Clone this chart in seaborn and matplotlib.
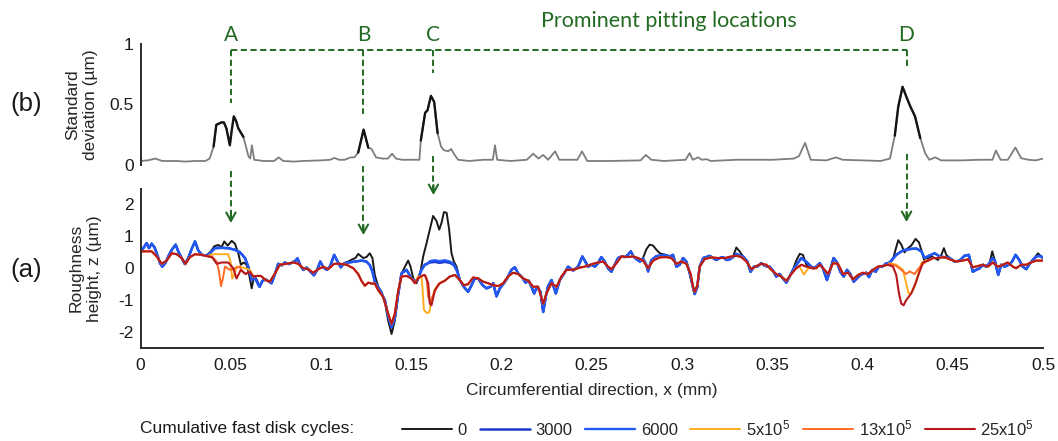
import numpy as np
import matplotlib
matplotlib.use("Agg")
import matplotlib.pyplot as plt
from matplotlib.lines import Line2D
from matplotlib.transforms import blended_transform_factory
import seaborn as sns

# ---------------------------------------------------------------- data
# (b) standard deviation of the roughness height across cycles (um)
x_std = [0.0, 0.004, 0.0083, 0.012, 0.02, 0.025, 0.03, 0.036, 0.0383, 0.0405,
         0.042, 0.0435, 0.0448, 0.0462, 0.0476, 0.0495, 0.0505, 0.0517, 0.053, 0.0542,
         0.057, 0.0598, 0.0608, 0.0617, 0.063, 0.068, 0.074, 0.0766, 0.079, 0.085,
         0.09, 0.1, 0.105, 0.1075, 0.11, 0.113, 0.1165, 0.1185, 0.1206, 0.1236,
         0.1262, 0.128, 0.1305, 0.134, 0.137, 0.1394, 0.1415, 0.145, 0.15, 0.1545,
         0.1553, 0.1577, 0.159, 0.1609, 0.1627, 0.1646, 0.1665, 0.168, 0.1705, 0.1721,
         0.174, 0.176, 0.182, 0.19, 0.1952, 0.1964, 0.1976, 0.205, 0.214, 0.2176,
         0.2205, 0.2231, 0.2258, 0.2297, 0.232, 0.242, 0.2446, 0.2475, 0.26, 0.277,
         0.28, 0.283, 0.29, 0.302, 0.3042, 0.306, 0.3089, 0.311, 0.3136, 0.316,
         0.33, 0.35, 0.362, 0.3648, 0.3682, 0.3713, 0.38, 0.3853, 0.389, 0.4,
         0.41, 0.4152, 0.4179, 0.4198, 0.4222, 0.4245, 0.4264, 0.4291, 0.432, 0.4347,
         0.437, 0.4403, 0.4435, 0.455, 0.465, 0.472, 0.4739, 0.4765, 0.4805, 0.4847,
         0.4879, 0.492, 0.496, 0.5]
std_um = [0.03, 0.035, 0.05, 0.03, 0.03, 0.025, 0.03, 0.03, 0.05, 0.15,
          0.33, 0.34, 0.35, 0.35, 0.30, 0.16, 0.28, 0.40, 0.36, 0.30,
          0.23, 0.07, 0.05, 0.16, 0.04, 0.03, 0.03, 0.06, 0.03, 0.025,
          0.03, 0.035, 0.04, 0.055, 0.04, 0.04, 0.06, 0.06, 0.10, 0.29,
          0.14, 0.13, 0.06, 0.05, 0.05, 0.09, 0.05, 0.04, 0.04, 0.04,
          0.20, 0.43, 0.45, 0.57, 0.52, 0.26, 0.15, 0.12, 0.11, 0.13,
          0.08, 0.04, 0.03, 0.04, 0.04, 0.16, 0.04, 0.03, 0.04, 0.09,
          0.05, 0.08, 0.04, 0.11, 0.04, 0.04, 0.11, 0.03, 0.03, 0.035,
          0.08, 0.04, 0.03, 0.04, 0.095, 0.04, 0.06, 0.04, 0.045, 0.03,
          0.04, 0.04, 0.05, 0.07, 0.18, 0.04, 0.035, 0.06, 0.04, 0.035,
          0.03, 0.05, 0.24, 0.48, 0.645, 0.555, 0.485, 0.40, 0.22, 0.095,
          0.04, 0.06, 0.035, 0.035, 0.04, 0.04, 0.117, 0.04, 0.04, 0.142,
          0.053, 0.04, 0.035, 0.05]
# stretches of the std curve that stand out (drawn darker)
std_highlight = [(0.0405, 0.0570), (0.1206, 0.1262), (0.1553, 0.1646), (0.4179, 0.4320)]

# (a) roughness profile before running (0 cycles)
x_unworn = [0.0, 0.0016, 0.0034, 0.0047, 0.0062, 0.0077, 0.009, 0.0108, 0.0121, 0.0139,
            0.0158, 0.0176, 0.0195, 0.0209, 0.0228, 0.0246, 0.0265, 0.0283, 0.0302, 0.032,
            0.0339, 0.0366, 0.039, 0.0409, 0.0431, 0.0449, 0.0464, 0.0483, 0.0505, 0.0523,
            0.0542, 0.0556, 0.0571, 0.0588, 0.0601, 0.0616, 0.063, 0.0645, 0.066, 0.0675,
            0.0693, 0.0712, 0.0726, 0.0745, 0.0763, 0.0782, 0.08, 0.0822, 0.0841, 0.0859,
            0.087, 0.0885, 0.0902, 0.092, 0.0942, 0.0961, 0.0979, 0.0996, 0.1014, 0.1033,
            0.1051, 0.1073, 0.1092, 0.111, 0.1129, 0.1151, 0.1173, 0.1191, 0.1206,
            0.1234, 0.1252, 0.127, 0.1285, 0.1298, 0.1317, 0.1335, 0.1354, 0.1372, 0.1391,
            0.1409, 0.1428, 0.1446, 0.1465, 0.1483, 0.1496, 0.1511, 0.1529, 0.1548, 0.1566,
            0.1585, 0.1603, 0.1621, 0.164, 0.1655, 0.1668, 0.1681, 0.1696, 0.171, 0.1723,
            0.1736, 0.1751, 0.1769, 0.1791, 0.1815, 0.1834, 0.1852, 0.1871, 0.1895, 0.1917,
            0.1939, 0.1954, 0.1972, 0.1991, 0.2013, 0.2031, 0.2055, 0.2074, 0.2092, 0.2114,
            0.2133, 0.2151, 0.2166, 0.2181, 0.2197, 0.2216, 0.2231, 0.2245, 0.2258, 0.2277,
            0.2301, 0.2323, 0.2345, 0.2369, 0.2397, 0.2424, 0.2448,
            0.248, 0.2498, 0.2517, 0.2535, 0.2553, 0.2572, 0.259, 0.2609, 0.2627, 0.2646,
            0.2664, 0.2683, 0.2701, 0.2716, 0.2731, 0.2749, 0.2767, 0.2784, 0.2803, 0.2821,
            0.284, 0.2858, 0.2877, 0.2904, 0.2932, 0.295, 0.2969, 0.2987, 0.3006, 0.3024,
            0.3043, 0.3056, 0.307, 0.3085, 0.3098, 0.3118, 0.3135, 0.3153, 0.3172, 0.319,
            0.3209, 0.3227, 0.3246, 0.3264, 0.3283, 0.3301, 0.3319, 0.3338, 0.3362, 0.338,
            0.3399, 0.3417, 0.3439, 0.3462, 0.3485, 0.3504, 0.3522, 0.3541, 0.3559, 0.3578,
            0.3596, 0.3615, 0.3633, 0.3652, 0.367, 0.3689,
            0.3726, 0.3744, 0.3763, 0.3781, 0.3803, 0.3818, 0.384, 0.3859, 0.3877, 0.3896,
            0.3914, 0.3932, 0.3951, 0.3969, 0.3988, 0.4002, 0.4021, 0.4036, 0.4054, 0.4073,
            0.4091, 0.411, 0.4128, 0.415, 0.4169, 0.4183, 0.4198, 0.4215, 0.4233, 0.4252,
            0.427, 0.4294, 0.4313, 0.4328, 0.4344, 0.4363, 0.4381, 0.44, 0.4418, 0.4437,
            0.4451, 0.4464, 0.4483, 0.451, 0.4538, 0.4565, 0.4589, 0.4611, 0.463, 0.4649,
            0.4667, 0.4685, 0.4704, 0.4719, 0.4733, 0.4752, 0.4768, 0.4787, 0.4811, 0.4829,
            0.4848, 0.4866, 0.4888, 0.4907, 0.4929, 0.4953, 0.4972, 0.499, 0.5]
z_unworn = [0.53, 0.63, 0.79, 0.63, 0.77, 0.66, 0.47, 0.16, 0.05, 0.18,
            0.42, 0.60, 0.74, 0.53, 0.32, 0.13, 0.32, 0.60, 0.84, 0.56,
            0.42, 0.40, 0.53, 0.69, 0.73, 0.66, 0.84, 0.71, 0.86, 0.77,
            0.47, 0.11, 0.18, 0.11, -0.18, -0.63, -0.24, -0.37, -0.58, -0.40,
            -0.35, -0.42, -0.47, -0.18, 0.14, 0.09, 0.18, 0.13, 0.18, 0.24,
            0.31, 0.09, -0.05, 0.02, -0.11, -0.22, -0.05, 0.21, 0.02, -0.05,
            0.07, 0.42, 0.21, 0.03, 0.16, 0.21, 0.28, 0.32, 0.45,
            0.32, 0.35, 0.47, 0.32, -0.21, -0.58, -0.74, -1.05, -1.64, -2.06,
            -1.64, -0.79, -0.18, 0.05, 0.24, 0.05, -0.32, -0.47, -0.21, 0.37,
            0.79, 1.21, 1.64, 1.48, 1.21, 1.43, 1.76, 1.74, 1.21, 0.47,
            0.21, 0.05, -0.37, -0.58, -0.74, -0.53, -0.32, -0.32, -0.53, -0.63,
            -0.58, -0.47, -0.88, -0.63, -0.47, -0.32, -0.05, 0.03, -0.16, -0.28,
            -0.45, -0.39, -0.58, -0.79, -0.58, -0.74, -1.37, -0.90, -0.56, -0.37,
            -0.79, -0.37, -0.18, 0.05, -0.07, 0.05, 0.37,
            0.05, 0.11, 0.05, 0.16, 0.35, 0.21, 0.0, -0.11, 0.11, 0.32,
            0.37, 0.35, 0.42, 0.53, 0.37, 0.28, 0.21, 0.32, 0.60, 0.74,
            0.71, 0.58, 0.47, 0.42, 0.37, 0.42, 0.05, 0.11, 0.32, 0.21,
            -0.16, -0.47, -0.81, -0.58, 0.05, 0.32, 0.35, 0.39, 0.32, 0.26,
            0.32, 0.35, 0.26, 0.28, 0.37, 0.65, 0.53, 0.37, 0.21, -0.11,
            0.05, 0.05, 0.16, 0.07, 0.05, -0.07, -0.26, -0.18, -0.32, -0.45,
            -0.26, -0.05, 0.24, 0.45, 0.42, 0.11,
            0.0, 0.05, 0.16, 0.0, -0.37, -0.11, 0.32, 0.18, -0.11, -0.26,
            -0.05, -0.18, -0.42, -0.32, -0.21, -0.18, -0.14, -0.28, -0.05, -0.11,
            0.05, 0.05, 0.14, 0.16, 0.28, 0.58, 0.88, 0.74, 0.50, 0.63,
            0.71, 0.92, 0.81, 0.53, 0.21, 0.32, 0.37, 0.32, 0.26, 0.42,
            0.63, 0.42, 0.32, 0.21, 0.24, 0.39, 0.42, -0.11, -0.05, 0.0,
            0.11, 0.05, 0.16, 0.53, 0.24, -0.21, 0.11, 0.05, 0.11, 0.21,
            0.42, 0.28, 0.05, -0.03, 0.16, 0.32, 0.47, 0.37, 0.32]

# (a) roughness profile after 25x10^5 cycles
x_worn = [0.0, 0.0025, 0.0062, 0.009, 0.0117, 0.0145, 0.0173, 0.02, 0.0228, 0.025,
          0.0274, 0.0302, 0.0339, 0.0376, 0.0398, 0.0422, 0.0449, 0.0486, 0.0514, 0.0532,
          0.0556, 0.0582, 0.0606, 0.0625, 0.0645, 0.0667, 0.0693, 0.0717, 0.0745, 0.0772,
          0.0809, 0.0846, 0.0874, 0.0902, 0.0929, 0.0957, 0.0985, 0.1012, 0.104, 0.1073,
          0.1105, 0.1142, 0.1179, 0.1206,
          0.1225, 0.1243, 0.1262, 0.128, 0.1298, 0.1317, 0.1344, 0.1372, 0.1391, 0.1409,
          0.1428, 0.1446, 0.1474, 0.1501, 0.152, 0.1538, 0.1557, 0.1575, 0.1594, 0.1603,
          0.1612, 0.1631, 0.1658, 0.1686, 0.1714, 0.1742, 0.1769, 0.1791, 0.1815, 0.1843,
          0.1871, 0.1898, 0.1926, 0.1954, 0.1982, 0.2009, 0.2036, 0.2064, 0.2092, 0.212,
          0.2148, 0.2175, 0.2203, 0.2231, 0.2249, 0.2277, 0.2305, 0.2332, 0.236, 0.2397,
          0.2434, 0.2461,
          0.2507, 0.2535, 0.2563, 0.259, 0.2609, 0.2637, 0.2664, 0.2701, 0.2729, 0.2757,
          0.2784, 0.2812, 0.284, 0.2877, 0.2913, 0.2941, 0.2969, 0.2996, 0.3024, 0.3048,
          0.3061, 0.307, 0.3085, 0.3098, 0.3126, 0.3163, 0.32, 0.3237, 0.3274, 0.3301,
          0.3329, 0.3357, 0.3384, 0.3412, 0.3439, 0.3467, 0.3495, 0.3522, 0.355, 0.3578,
          0.3606, 0.3633, 0.3661, 0.3689,
          0.3726, 0.3744, 0.3763, 0.379, 0.3809, 0.3837, 0.3864, 0.3892, 0.392, 0.3947,
          0.3975, 0.4002, 0.403, 0.4058, 0.4085, 0.4113, 0.4141, 0.4169, 0.4187, 0.4202,
          0.4215, 0.4228, 0.4242, 0.427, 0.4294, 0.4313, 0.4335, 0.4363, 0.4391, 0.4418,
          0.4455, 0.4483, 0.4519, 0.4556, 0.4584, 0.4611, 0.4639, 0.4667, 0.4694, 0.4722,
          0.475, 0.4777, 0.4805, 0.4833, 0.4851, 0.4879, 0.4907, 0.4934, 0.4962, 0.5]
z_worn = [0.53, 0.53, 0.53, 0.37, 0.14, 0.24, 0.47, 0.44, 0.32, 0.14,
          0.35, 0.44, 0.42, 0.37, 0.34, 0.14, 0.18, 0.18, 0.0, -0.32,
          -0.05, -0.18, -0.11, -0.26, -0.24, -0.24, -0.37, -0.42, -0.16, 0.11,
          0.14, 0.18, 0.14, 0.0, -0.03, -0.14, -0.03, 0.05, -0.03, 0.14,
          0.14, 0.11, 0.0, -0.18,
          -0.40, -0.55, -0.45, -0.48, -0.48, -0.69, -0.90, -1.42, -1.74, -1.42,
          -0.69, -0.26, -0.24, -0.32, -0.47, -0.32, -0.24, -0.21, -0.47, -1.11,
          -1.16, -0.69, -0.47, -0.39, -0.26, -0.21, -0.37, -0.53, -0.50, -0.29,
          -0.32, -0.42, -0.47, -0.53, -0.56, -0.47, -0.26, -0.14, -0.18, -0.32,
          -0.39, -0.58, -0.58, -1.11, -0.79, -0.47, -0.58, -0.26, -0.05, -0.05,
          0.02, 0.05,
          0.14, 0.18, 0.21, 0.05, -0.03, 0.16, 0.37, 0.35, 0.37, 0.32,
          0.24, 0.0, 0.24, 0.34, 0.35, 0.32, 0.14, 0.21, 0.14, -0.18,
          -0.58, -0.74, -0.53, 0.05, 0.29, 0.34, 0.32, 0.32, 0.37, 0.39,
          0.35, 0.21, -0.03, 0.07, 0.14, 0.11, -0.05, -0.18, -0.26, -0.39,
          -0.18, 0.0, 0.11, 0.05,
          0.0, 0.0, 0.11, -0.05, -0.18, 0.16, 0.14, -0.18, -0.14, -0.35,
          -0.21, -0.14, -0.18, -0.05, 0.05, 0.07, 0.11, 0.05, -0.21, -0.79,
          -1.11, -1.16, -1.0, -0.79, -0.47, -0.16, 0.18, 0.24, 0.32, 0.32,
          0.35, 0.28, 0.21, 0.24, 0.28, 0.03, 0.07, 0.11, 0.05, 0.18,
          0.05, 0.11, 0.18, 0.05, 0.0, 0.11, 0.11, 0.18, 0.24, 0.24]

# local differences of the 3000-cycle profile from the unworn one
seg_3000 = [
    ([0.0385, 0.0412, 0.0449, 0.0486, 0.0523, 0.0551, 0.0579, 0.0597, 0.0616, 0.0634, 0.0656],
     [0.47, 0.63, 0.64, 0.63, 0.58, 0.50, 0.32, 0.05, -0.37, -0.30, -0.55]),
    ([0.1151, 0.1188, 0.1225, 0.1252, 0.127, 0.1285, 0.1298, 0.1326, 0.1354, 0.1372,
      0.1391, 0.1409, 0.1428, 0.1446, 0.1474, 0.1501, 0.1529, 0.1557, 0.1575, 0.1603,
      0.1631, 0.1658, 0.1686, 0.1714, 0.1736, 0.1755, 0.1769],
     [0.18, 0.21, 0.24, 0.21, 0.10, -0.10, -0.42, -0.69, -1.0, -1.5,
      -1.85, -1.55, -0.8, -0.16, -0.05, -0.32, -0.42, -0.05, 0.11, 0.18,
      0.20, 0.17, 0.20, 0.17, 0.10, -0.10, -0.37]),
    ([0.2784, 0.2803, 0.2812, 0.283, 0.2858, 0.2886], [0.30, 0.10, -0.10, 0.25, 0.38, 0.40]),
    ([0.3283, 0.3301, 0.3319], [0.35, 0.45, 0.40]),
    ([0.3633, 0.3661, 0.3689, 0.3716], [0.10, 0.32, 0.20, 0.05]),
    ([0.4128, 0.415, 0.4187, 0.4224, 0.4261, 0.4298, 0.4326, 0.4344, 0.4372, 0.44,
      0.4427, 0.4451, 0.4483],
     [0.14, 0.18, 0.42, 0.56, 0.60, 0.62, 0.53, 0.32, 0.40, 0.47, 0.37, 0.35, 0.32]),
    ([0.4719], [0.32]),
    ([0.4972], [0.39]),
]
# local differences of the 6000-cycle profile from the 3000-cycle one
seg_6000 = [
    ([0.1585, 0.1603, 0.1631, 0.1658, 0.1686, 0.1714, 0.1736],
     [0.12, 0.22, 0.25, 0.22, 0.25, 0.21, 0.13]),
]
# local differences of the 5x10^5 and 13x10^5 profiles from the 25x10^5 one
seg_5e5 = [
    ([0.0385, 0.0412, 0.0449, 0.0486, 0.0499, 0.0508, 0.052, 0.0532, 0.0551, 0.0579, 0.0606],
     [0.42, 0.44, 0.44, 0.44, 0.20, -0.32, -0.20, 0.05, 0.05, 0.0, -0.05]),
    ([0.1538, 0.1557, 0.1562, 0.157, 0.1585, 0.16, 0.1612, 0.1631],
     [-0.26, -0.25, -0.6, -1.3, -1.4, -1.38, -1.0, -0.65]),
    ([0.3652, 0.3675, 0.37], [0.05, -0.20, 0.0]),
    ([0.415, 0.4187, 0.4224, 0.4242, 0.4255, 0.427, 0.4289, 0.4307, 0.4326, 0.4354],
     [0.16, 0.11, -0.05, -0.47, -0.79, -0.77, -0.58, -0.21, 0.16, 0.26]),
]
seg_13e5 = [
    ([0.0394, 0.0422, 0.0435, 0.0446, 0.0457, 0.0468, 0.0496, 0.0523, 0.0551],
     [0.37, 0.21, -0.10, -0.56, -0.30, 0.05, -0.05, 0.0, 0.05]),
    ([0.1585, 0.1594, 0.1607, 0.1625, 0.1649], [-0.30, -0.90, -1.05, -0.80, -0.50]),
    ([0.415, 0.4187, 0.4215, 0.4242, 0.4261, 0.4289, 0.4307, 0.4335],
     [0.14, 0.07, -0.05, -0.18, -0.10, -0.18, -0.03, 0.14]),
]

cycle_labels = ["0", "3000", "6000", "5x10$^5$", "13x10$^5$", "25x10$^5$"]
cycle_colors = ["#1a1a1a", "#1a3ccc", "#2259f2", "#ffab1f", "#ff6a24", "#b5191b"]
cycle_widths = [1.4, 1.8, 1.7, 1.4, 1.4, 1.5]

# pitting locations A-D
pit_names = ["A", "B", "C", "D"]
pit_x = [0.0501, 0.1235, 0.1623, 0.4244]

x_ticks = [0, 0.05, 0.1, 0.15, 0.2, 0.25, 0.3, 0.35, 0.4, 0.45, 0.5]
x_tick_labels = ["0", "0.05", "0.1", "0.15", "0.2", "0.25", "0.3", "0.35", "0.4", "0.45", "0.5"]
std_ticks = [0, 0.5, 1]
std_tick_labels = ["0", "0.5", "1"]
z_ticks = [-2, -1, 0, 1, 2]
z_tick_labels = ["-2", "-1", "0", "1", "2"]


def splice(base_x, base_z, segments):
    """Replace the base profile inside each segment's x-range by the segment points."""
    x = np.asarray(base_x, float)
    z = np.asarray(base_z, float)
    for sx, sz in segments:
        keep = (x < sx[0]) | (x > sx[-1])
        x = np.concatenate([x[keep], sx])
        z = np.concatenate([z[keep], sz])
        order = np.argsort(x, kind="stable")
        x, z = x[order], z[order]
    return x, z


x3000, z3000 = splice(x_unworn, z_unworn, seg_3000)
x6000, z6000 = splice(x3000, z3000, seg_6000)
x5e5, z5e5 = splice(x_worn, z_worn, seg_5e5)
x13e5, z13e5 = splice(x_worn, z_worn, seg_13e5)
profiles = [(np.asarray(x_unworn), np.asarray(z_unworn)), (x3000, z3000), (x6000, z6000),
            (x5e5, z5e5), (x13e5, z13e5), (np.asarray(x_worn), np.asarray(z_worn))]

# ---------------------------------------------------------------- style
sns.set_theme(style="white")
plt.rcParams.update({
    "font.family": ["Liberation Sans", "DejaVu Sans"],
    "axes.unicode_minus": False,
    "mathtext.fontset": "custom",
    "mathtext.rm": "Liberation Sans",
    "mathtext.it": "Liberation Sans:italic",
    "mathtext.default": "regular",
})
FS = 12.5
SPINE = "#2b2b2b"
GREEN = "#236b23"
W, H = 1058, 441


def fx(px):
    return px / W


def fy(py):
    return 1 - py / H


fig = plt.figure(figsize=(W / 100, H / 100), dpi=100)
ax_top = fig.add_axes([fx(140.5), fy(164.6), fx(902.5), (164.6 - 44) / H])
ax_bot = fig.add_axes([fx(140.5), fy(348), fx(902.5), (348 - 188.5) / H])

# ---------------------------------------------------------------- (b) std
xs = np.asarray(x_std)
ys = np.asarray(std_um)
sns.lineplot(x=xs, y=ys, ax=ax_top, color="#7d7d7d", lw=1.3, estimator=None,
             sort=False, legend=False)
for lo, hi in std_highlight:
    m = (xs >= lo) & (xs <= hi)
    sns.lineplot(x=xs[m], y=ys[m], ax=ax_top, color="#141414", lw=1.7,
                 estimator=None, sort=False, legend=False)

ax_top.set_xlim(0, 0.5)
ax_top.set_ylim(0, 1)
ax_top.set_xticks([])
ax_top.set_yticks(std_ticks)
ax_top.set_yticklabels(std_tick_labels)
for s in ["top", "right", "bottom"]:
    ax_top.spines[s].set_visible(False)
ax_top.set_ylabel("Standard\ndeviation (µm)", fontsize=FS, linespacing=1.3)
ax_top.yaxis.set_label_coords(-(140.5 - 98.5) / 902.5, 0.5)

# ---------------------------------------------------------------- (a) profiles
for (px_, pz_), lab, col, lw in zip(profiles, cycle_labels, cycle_colors, cycle_widths):
    sns.lineplot(x=px_, y=pz_, ax=ax_bot, color=col, lw=lw, label=lab,
                 estimator=None, sort=False, legend=False)

ax_bot.set_xlim(0, 0.5)
ax_bot.set_ylim(-2.5, 2.5)
ax_bot.set_xticks(x_ticks)
ax_bot.set_xticklabels(x_tick_labels)
ax_bot.set_yticks(z_ticks)
ax_bot.set_yticklabels(z_tick_labels)
for s in ["top", "right"]:
    ax_bot.spines[s].set_visible(False)
ax_bot.set_ylabel("Roughness\nheight, z (µm)", fontsize=FS, linespacing=1.3)
ax_bot.yaxis.set_label_coords(-(140.5 - 102) / 902.5, 0.5)
ax_bot.set_xlabel("Circumferential direction, x (mm)", fontsize=FS)
ax_bot.xaxis.set_label_coords(0.5, -(383 - 348) / 159.5)

for ax in (ax_top, ax_bot):
    ax.set_facecolor("none")
    for sp in ax.spines.values():
        sp.set_color(SPINE)
        sp.set_linewidth(1.4)
    ax.tick_params(direction="in", length=6, width=1.3, color=SPINE,
                   labelsize=FS, pad=5, labelcolor="#1a1a1a")
    ax.tick_params(axis="x", pad=7)

# panel tags
fig.text(fx(26), fy(104), "(b)", fontsize=18.5, ha="center", va="center", color="#1a1a1a")
fig.text(fx(26), fy(270), "(a)", fontsize=18.5, ha="center", va="center", color="#1a1a1a")

# ---------------------------------------------------------------- pitting markers
trans = blended_transform_factory(ax_bot.transData, fig.transFigure)
dash = dict(color=GREEN, lw=1.4, linestyle=(0, (3.2, 1.8)))
fig.add_artist(Line2D([pit_x[0], pit_x[-1]], [fy(50), fy(50)], transform=trans, **dash))
upper_end = [103, 114, 73, 67]
lower_start = [171, 166, 156, 154]
arrow_tip = [223, 235, 195, 222]
for name, x, ue, ls, tip in zip(pit_names, pit_x, upper_end, lower_start, arrow_tip):
    fig.add_artist(Line2D([x, x], [fy(50), fy(ue)], transform=trans, **dash))
    fig.add_artist(Line2D([x, x], [fy(ls), fy(tip - 2)], transform=trans, **dash))
    ax_bot.annotate("", xy=(x, fy(tip)), xycoords=trans, xytext=(x, fy(tip - 10)),
                    textcoords=trans, annotation_clip=False,
                    arrowprops=dict(arrowstyle="->,head_length=0.5,head_width=0.28",
                                    color=GREEN, lw=1.5, shrinkA=0, shrinkB=0))
    ax_bot.text(x, fy(35), name, transform=trans, ha="center", va="center",
                fontsize=15, color=GREEN, family=["Lato", "DejaVu Sans"])

fig.text(fx(669), fy(21), "Prominent pitting locations", ha="center", va="center",
         fontsize=15.5, color=GREEN, family=["Lato", "DejaVu Sans"])

# ---------------------------------------------------------------- legend
fig.text(fx(140), fy(428), "Cumulative fast disk cycles:", ha="left", va="center",
         fontsize=FS, color="#1a1a1a")
handles, labels = ax_bot.get_legend_handles_labels()
fig.legend(handles, labels, loc="center left", bbox_to_anchor=(fx(402), fy(428)),
           ncol=6, frameon=False, fontsize=12, handlelength=3.0, handletextpad=0.35,
           columnspacing=0.75, borderaxespad=0, borderpad=0)

fig.savefig("out.png", dpi=100)
